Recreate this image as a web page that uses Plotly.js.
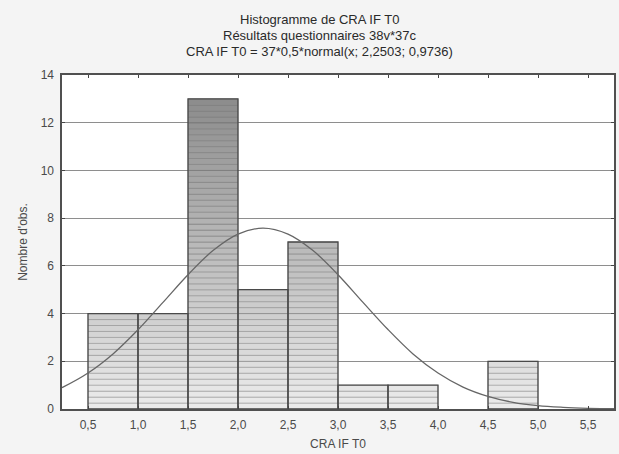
<!DOCTYPE html>
<html>
<head>
<meta charset="utf-8">
<script src="https://cdn.plot.ly/plotly-3.0.1.min.js"></script>
<style>
  html, body { margin: 0; padding: 0; background: #f4f4f4; }
  #chart { width: 619px; height: 454px; }
</style>
</head>
<body>
<div id="chart"></div>
<script>
// ---- data ----
var binCenters = [0.75, 1.25, 1.75, 2.25, 2.75, 3.25, 3.75, 4.25, 4.75];
var binCounts  = [4, 4, 13, 5, 7, 1, 1, 0, 2];
var binWidth = 0.5;

// fitted normal curve as drawn: 37*0,5*normal(x; 2,2503; 0,9736)
var curveX = [0.2, 0.25, 0.5, 0.75, 1.0, 1.25, 1.5, 1.75, 2.0, 2.25, 2.5, 2.75, 3.0, 3.25, 3.5, 3.75, 4.0, 4.25, 4.5, 4.75, 5.0, 5.25, 5.5, 5.75, 5.8];
var curveY = [0.83, 0.92, 1.51, 2.31, 3.32, 4.47, 5.63, 6.64, 7.33, 7.58, 7.33, 6.64, 5.63, 4.47, 3.33, 2.31, 1.51, 0.92, 0.53, 0.28, 0.14, 0.07, 0.03, 0.01, 0.01];

var xTicks = [0.5, 1.0, 1.5, 2.0, 2.5, 3.0, 3.5, 4.0, 4.5, 5.0, 5.5];
var yTicks = [0, 2, 4, 6, 8, 10, 12, 14];

var titleLines = [
  'Histogramme de CRA IF T0',
  'Résultats questionnaires 38v*37c',
  'CRA IF T0 = 37*0,5*normal(x; 2,2503; 0,9736)'
];
var xTitle = 'CRA IF T0';
var yTitle = "Nombre d'obs.";

// ---- build striped, shaded bars from the counts ----
var step = 0.25;
var maxCount = Math.max.apply(null, binCounts);
var traces = [];
for (var lo = 0; lo < maxCount; lo += step) {
  var ys = binCounts.map(function (c) {
    var h = Math.min(step, c - lo);
    return h > 0 ? h : null;
  });
  var mid = lo + step / 2;
  var g = Math.round(236 - 7.4 * mid);
  traces.push({
    type: 'bar', x: binCenters, y: ys, base: lo, width: binWidth,
    marker: { color: 'rgb(' + g + ',' + g + ',' + g + ')', opacity: 1,
              line: { color: 'rgba(70,70,70,0.45)', width: 0.6 } },
    hoverinfo: 'skip', showlegend: false
  });
}
// bar outlines
traces.push({
  type: 'bar', x: binCenters, y: binCounts.map(function (c) { return c > 0 ? c : null; }),
  base: 0, width: binWidth,
  marker: { color: 'rgba(0,0,0,0)', line: { color: '#4a4a4a', width: 1.3 } },
  hoverinfo: 'skip', showlegend: false
});
// normal curve
traces.push({
  type: 'scatter', mode: 'lines', x: curveX, y: curveY,
  line: { color: '#666666', width: 1.3, shape: 'spline' },
  hoverinfo: 'skip', showlegend: false
});

var font = { family: 'Liberation Sans, Arial, sans-serif' };

var annotations = titleLines.map(function (t, i) {
  return {
    text: t, xref: 'paper', yref: 'paper', x: 0.466, y: [1.1647, 1.1168, 1.0689][i],
    xanchor: 'center', yanchor: 'middle', showarrow: false,
    font: { family: font.family, size: 13, color: '#2a2a2a' }
  };
});

var layout = {
  width: 619, height: 454,
  margin: { l: 62, r: 5, t: 75, b: 45, pad: 0 },
  paper_bgcolor: '#f4f4f4', plot_bgcolor: '#ffffff',
  barmode: 'overlay', bargap: 0,
  separators: ', ',
  showlegend: false,
  annotations: annotations,
  xaxis: {
    range: [0.24, 5.76], tickvals: xTicks, tickformat: '.1f',
    ticks: 'inside', ticklen: 3, tickcolor: '#444',
    showgrid: false, zeroline: false,
    showline: true, mirror: 'ticks', linecolor: '#505050', linewidth: 1.6,
    tickfont: { family: font.family, size: 12, color: '#4a4a4a' },
    ticklabelstandoff: 4,
    title: { text: xTitle, standoff: 8, font: { family: font.family, size: 12, color: '#4a4a4a' } }
  },
  yaxis: {
    range: [0, 14], tickvals: yTicks,
    ticks: 'inside', ticklen: 3, tickcolor: '#444',
    showgrid: true, gridcolor: '#8e8e8e', gridwidth: 1, zeroline: false,
    showline: true, mirror: 'ticks', linecolor: '#505050', linewidth: 1.6,
    tickfont: { family: font.family, size: 12, color: '#4a4a4a' },
    ticklabelstandoff: 4,
    title: { text: yTitle, standoff: 10, font: { family: font.family, size: 12, color: '#4a4a4a' } }
  }
};

Plotly.newPlot('chart', traces, layout, { displayModeBar: false, staticPlot: true });
</script>
</body>
</html>
